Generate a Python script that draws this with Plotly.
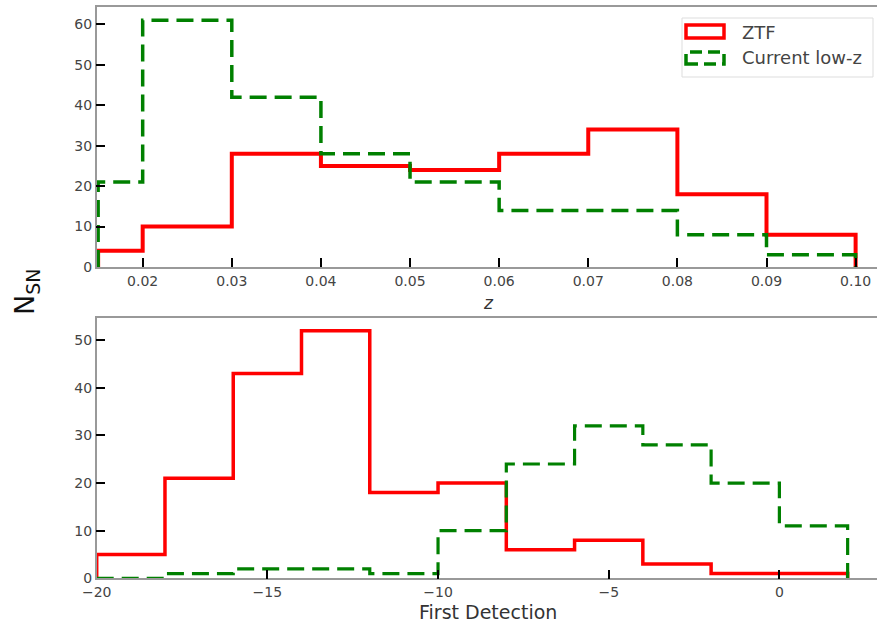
import plotly.graph_objects as go

# ---- data ----
z_edges = [0.015, 0.02, 0.03, 0.04, 0.05, 0.06, 0.07, 0.08, 0.09, 0.10]
ztf_z_counts = [4, 10, 28, 25, 24, 28, 34, 18, 8]
lowz_z_counts = [21, 61, 42, 28, 21, 14, 14, 8, 3]

fd_edges = [-20, -18, -16, -14, -12, -10, -8, -6, -4, -2, 0, 2]
ztf_fd_counts = [5, 21, 43, 52, 18, 20, 6, 8, 3, 1, 1]
lowz_fd_counts = [0, 1, 2, 2, 1, 10, 24, 32, 28, 20, 11]

z_ticks = [0.02, 0.03, 0.04, 0.05, 0.06, 0.07, 0.08, 0.09, 0.10]
z_ticktext = ["0.02", "0.03", "0.04", "0.05", "0.06", "0.07", "0.08", "0.09", "0.10"]
fd_ticks = [-20, -15, -10, -5, 0]
fd_ticktext = ["\u221220", "\u221215", "\u221210", "\u22125", "0"]

W, H = 877, 625
def px(x):
    return x / W
def py(y):
    return 1 - y / H

def step_xy(edges, counts):
    xs = [edges[0]] + list(edges[:-1]) + [edges[-1]]
    ys = [0] + list(counts) + [0]
    return xs, ys

RED = "#ff0000"
GREEN = "#008000"
FONT = "DejaVu Sans"

fig = go.Figure()

x, y = step_xy(z_edges, ztf_z_counts)
fig.add_trace(go.Scatter(x=x, y=y, mode="lines", line=dict(color=RED, width=4, shape="hv"),
                         xaxis="x", yaxis="y", showlegend=False, name="ZTF"))
x, y = step_xy(z_edges, lowz_z_counts)
fig.add_trace(go.Scatter(x=x, y=y, mode="lines", line=dict(color=GREEN, width=3.5, shape="hv", dash="17px,8px"),
                         xaxis="x", yaxis="y", showlegend=False, name="Current low-z"))
x, y = step_xy(fd_edges, ztf_fd_counts)
fig.add_trace(go.Scatter(x=x, y=y, mode="lines", line=dict(color=RED, width=3.5, shape="hv"),
                         xaxis="x2", yaxis="y2", showlegend=False, name="ZTF"))
x, y = step_xy(fd_edges, lowz_fd_counts)
fig.add_trace(go.Scatter(x=x, y=y, mode="lines", line=dict(color=GREEN, width=3.2, shape="hv", dash="17px,8px"),
                         xaxis="x2", yaxis="y2", showlegend=False, name="Current low-z"))

axis_common = dict(showgrid=False, zeroline=False, showline=True, linecolor="#999999", linewidth=1.5,
                   ticks="inside", ticklen=9, tickwidth=1.5, tickcolor="black", automargin=False,
                   tickfont=dict(family=FONT, size=14, color="#444444"))

fig.update_layout(
    width=W, height=H,
    margin=dict(l=0, r=0, t=0, b=0, pad=0, autoexpand=False),
    paper_bgcolor="white", plot_bgcolor="white",
    xaxis=dict(domain=[px(96.7), 1], range=[0.01484, 0.1024], anchor="y", mirror=True,
               tickvals=z_ticks, ticktext=z_ticktext, **axis_common),
    yaxis=dict(domain=[py(267), py(7)], range=[0, 64.3], anchor="x",
               tickvals=[0, 10, 20, 30, 40, 50, 60], **axis_common),
    xaxis2=dict(domain=[px(96.7), 1], range=[-20, 2.86], anchor="y2", mirror=True,
                tickvals=fd_ticks, ticktext=fd_ticktext, **axis_common),
    yaxis2=dict(domain=[py(578.3), py(318.3)], range=[0, 54.6], anchor="x2",
                tickvals=[0, 10, 20, 30, 40, 50], **axis_common),
)

def ann(xp, yp, text, size, color="#333333", xanchor="center", angle=0):
    fig.add_annotation(x=px(xp), y=py(yp), xref="paper", yref="paper", text=text, showarrow=False,
                       xanchor=xanchor, yanchor="middle", textangle=angle,
                       font=dict(family=FONT, size=size, color=color))

# axis labels
ann(488, 303, "<i>z</i>", 17)
ann(488, 612, "First Detection", 19)
ann(26, 292, "N<sub>SN</sub>", 27, color="#111111", angle=-90)

# legend (drawn as decoration)
fig.add_shape(type="rect", xref="paper", yref="paper", x0=px(682), x1=px(873), y0=py(77), y1=py(18),
              line=dict(color="#dddddd", width=1), fillcolor="rgba(255,255,255,0.8)", layer="above")
fig.add_shape(type="rect", xref="paper", yref="paper", x0=px(686), x1=px(724), y0=py(38), y1=py(25),
              line=dict(color=RED, width=3.5), fillcolor="white", layer="above")
fig.add_shape(type="rect", xref="paper", yref="paper", x0=px(686), x1=px(724), y0=py(64), y1=py(52),
              line=dict(color=GREEN, width=3.5, dash="12px,6px"), fillcolor="rgba(0,0,0,0)", layer="above")
ann(740, 32, "ZTF", 18, color="#444444", xanchor="left")
ann(740, 58, "Current low-z", 18, color="#444444", xanchor="left")

fig.write_html("out.html")
